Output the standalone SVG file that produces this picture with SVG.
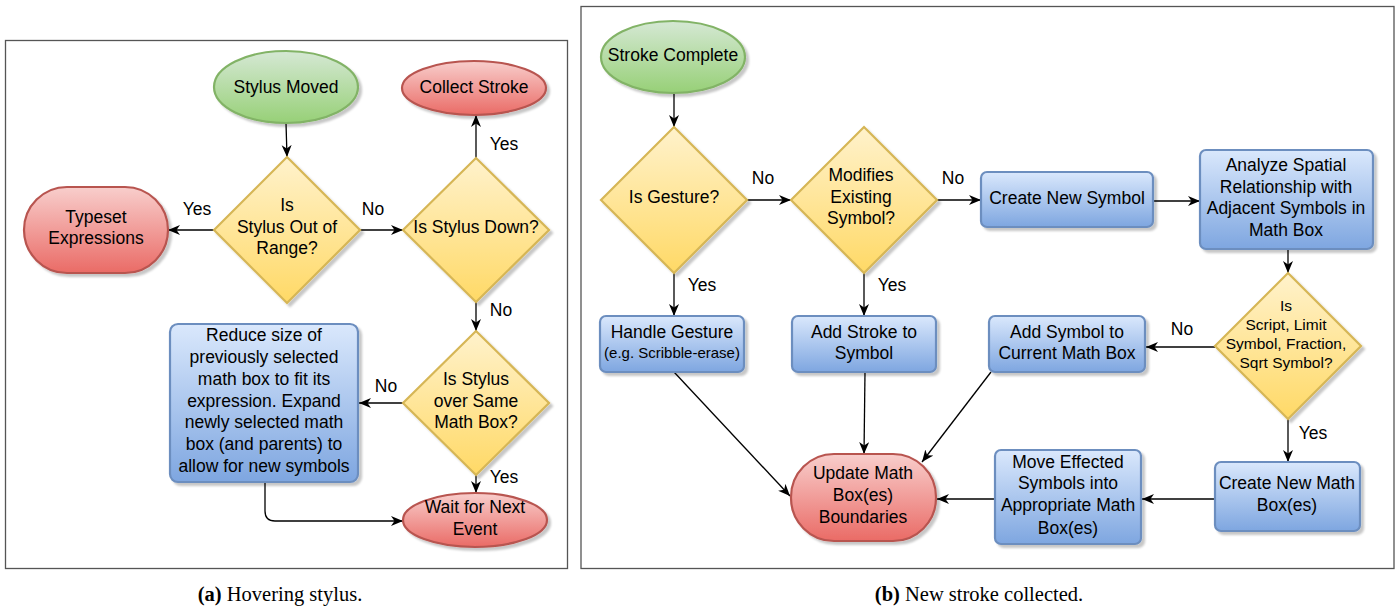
<svg xmlns="http://www.w3.org/2000/svg" width="1399" height="610" viewBox="0 0 1399 610">
<style>
text{font-family:"Liberation Sans",Arial,sans-serif;font-size:17.5px;fill:#000;text-anchor:middle}
.sm{font-size:15.5px}
.xs{font-size:15px}
.cap{font-family:"Liberation Serif","Times New Roman",serif;font-size:20.5px}
.frame{fill:#fff;stroke:#555;stroke-width:1.3}
.green{fill:url(#gG);stroke:#82b366;stroke-width:2.2}
.red{fill:url(#gR);stroke:#b85450;stroke-width:2.2}
.yel{fill:url(#gY);stroke:#d6b656;stroke-width:2.2}
.blue{fill:url(#gB);stroke:#6c8ebf;stroke-width:2.2}
.sh{filter:url(#shadow)}
#connectors path,#connectors line{fill:none;stroke:#000;stroke-width:1.3;marker-end:url(#arr)}
</style>
<defs>
<linearGradient id="gG" x1="0" y1="0" x2="0" y2="1"><stop offset="0" stop-color="#d5e8d4"/><stop offset="1" stop-color="#97d077"/></linearGradient>
<linearGradient id="gR" x1="0" y1="0" x2="0" y2="1"><stop offset="0" stop-color="#f8cecc"/><stop offset="1" stop-color="#ea6b66"/></linearGradient>
<linearGradient id="gY" x1="0" y1="0" x2="0" y2="1"><stop offset="0" stop-color="#fff2cc"/><stop offset="1" stop-color="#ffd966"/></linearGradient>
<linearGradient id="gB" x1="0" y1="0" x2="0" y2="1"><stop offset="0" stop-color="#dae8fc"/><stop offset="1" stop-color="#7ea6e0"/></linearGradient>
<filter id="shadow" x="-10%" y="-10%" width="130%" height="130%">
<feOffset in="SourceAlpha" dx="3" dy="3" result="o"/>
<feGaussianBlur in="o" stdDeviation="0.8" result="b"/>
<feColorMatrix in="b" type="matrix" values="0 0 0 0 0  0 0 0 0 0  0 0 0 0 0  0 0 0 0.22 0" result="s"/>
<feMerge><feMergeNode in="s"/><feMergeNode in="SourceGraphic"/></feMerge>
</filter>
<marker id="arr" markerUnits="userSpaceOnUse" markerWidth="13" markerHeight="11" refX="12" refY="5" orient="auto">
<path d="M0,0 L12,5 L0,10 L3.5,5 z" fill="#000"/>
</marker>
</defs>

<rect class="frame" x="5.5" y="40.5" width="562" height="528"/>
<rect class="frame" x="581" y="6.5" width="813" height="562"/>

<g id="connectors">
<line x1="286" y1="123" x2="287" y2="157"/>
<line x1="214" y1="230" x2="168" y2="230"/>
<line x1="360" y1="230" x2="403" y2="230"/>
<line x1="476" y1="158" x2="476" y2="115"/>
<line x1="476" y1="302" x2="476" y2="331"/>
<line x1="403" y1="403" x2="359" y2="403"/>
<line x1="476" y1="475" x2="476" y2="493"/>
<path d="M265,482 V511 Q265,521 275,521 H403"/>
<line x1="674" y1="94" x2="674" y2="127"/>
<line x1="747" y1="200" x2="791" y2="200"/>
<line x1="937" y1="200" x2="981" y2="200"/>
<line x1="1153" y1="201" x2="1200" y2="201"/>
<line x1="1288" y1="249" x2="1288" y2="273"/>
<line x1="1215" y1="347" x2="1146" y2="347"/>
<line x1="1288" y1="419" x2="1288" y2="462"/>
<line x1="1215" y1="499" x2="1142" y2="499"/>
<line x1="995" y1="499" x2="937" y2="499"/>
<line x1="674" y1="273" x2="674" y2="316"/>
<line x1="864" y1="273" x2="864" y2="316"/>
<line x1="674" y1="372" x2="790" y2="496"/>
<line x1="865" y1="372" x2="864" y2="454"/>
<line x1="991" y1="372" x2="922" y2="462"/>
</g>

<g id="labels">
<text x="197" y="215">Yes</text>
<text x="373" y="215">No</text>
<text x="504" y="150">Yes</text>
<text x="501" y="316">No</text>
<text x="386" y="392">No</text>
<text x="504" y="483">Yes</text>
<text x="763" y="184">No</text>
<text x="953" y="184">No</text>
<text x="702" y="291">Yes</text>
<text x="892" y="291">Yes</text>
<text x="1182" y="335">No</text>
<text x="1313" y="439">Yes</text>
</g>

<g id="stylus-moved"><ellipse class="green sh" cx="286" cy="87" rx="72" ry="36"/><text x="286" y="93">Stylus Moved</text></g>
<g id="collect-stroke"><ellipse class="red sh" cx="474" cy="88" rx="72" ry="27"/><text x="474" y="93">Collect Stroke</text></g>
<g id="out-of-range"><polygon class="yel sh" points="287,157 360,230 287,303 214,230"/><text x="287" y="211">Is</text><text x="287" y="233">Stylus Out of</text><text x="287" y="254">Range?</text></g>
<g id="typeset"><rect class="red sh" x="24" y="187" width="144" height="86" rx="43"/><text x="96" y="223">Typeset</text><text x="96" y="244">Expressions</text></g>
<g id="stylus-down"><polygon class="yel sh" points="476,158 549,230 476,302 403,230"/><text x="476" y="233">Is Stylus Down?</text></g>
<g id="reduce"><rect class="blue sh" x="170" y="324" width="188" height="158" rx="8"/>
<text x="264" y="341">Reduce size of</text><text x="264" y="363">previously selected</text><text x="264" y="385">math box to fit its</text><text x="264" y="407">expression. Expand</text><text x="264" y="428">newly selected math</text><text x="264" y="450">box (and parents) to</text><text x="264" y="472">allow for new symbols</text></g>
<g id="same-box"><polygon class="yel sh" points="476,331 549,403 476,475 403,403"/><text x="476" y="385">Is Stylus</text><text x="476" y="407">over Same</text><text x="476" y="428">Math Box?</text></g>
<g id="wait"><ellipse class="red sh" cx="475" cy="520" rx="72" ry="27"/><text x="475" y="513">Wait for Next</text><text x="475" y="535">Event</text></g>

<g id="stroke-complete"><ellipse class="green sh" cx="673" cy="57" rx="72" ry="36"/><text x="673" y="61">Stroke Complete</text></g>
<g id="is-gesture"><polygon class="yel sh" points="674,127 747,200 674,273 601,200"/><text x="674" y="203">Is Gesture?</text></g>
<g id="modifies"><polygon class="yel sh" points="864,127 937,200 864,273 791,200"/><text x="861" y="181">Modifies</text><text x="861" y="203">Existing</text><text x="861" y="224">Symbol?</text></g>
<g id="create-symbol"><rect class="blue sh" x="981" y="172" width="172" height="55" rx="6"/><text x="1067" y="204">Create New Symbol</text></g>
<g id="analyze"><rect class="blue sh" x="1200" y="150" width="173" height="99" rx="6"/><text x="1286" y="171">Analyze Spatial</text><text x="1286" y="193">Relationship with</text><text x="1286" y="214">Adjacent Symbols in</text><text x="1286" y="236">Math Box</text></g>
<g id="is-script"><polygon class="yel sh" points="1288,273 1361,346 1288,419 1215,346"/><text class="sm" x="1286" y="311">Is</text><text class="sm" x="1286" y="330">Script, Limit</text><text class="sm" x="1286" y="349">Symbol, Fraction,</text><text class="sm" x="1286" y="368">Sqrt Symbol?</text></g>
<g id="add-symbol"><rect class="blue sh" x="989" y="316" width="156" height="56" rx="6"/><text x="1067" y="338">Add Symbol to</text><text x="1067" y="359">Current Math Box</text></g>
<g id="create-math-box"><rect class="blue sh" x="1215" y="462" width="145" height="69" rx="6"/><text x="1287" y="489">Create New Math</text><text x="1287" y="511">Box(es)</text></g>
<g id="move-effected"><rect class="blue sh" x="995" y="450" width="146" height="94" rx="6"/><text x="1068" y="468">Move Effected</text><text x="1068" y="489">Symbols into</text><text x="1068" y="511">Appropriate Math</text><text x="1068" y="534">Box(es)</text></g>
<g id="handle-gesture"><rect class="blue sh" x="600" y="316" width="144" height="56" rx="6"/><text x="672" y="338">Handle Gesture</text><text class="xs" x="672" y="358">(e.g. Scribble-erase)</text></g>
<g id="add-stroke"><rect class="blue sh" x="792" y="316" width="144" height="56" rx="6"/><text x="864" y="338">Add Stroke to</text><text x="864" y="359">Symbol</text></g>
<g id="update"><rect class="red sh" x="791" y="454" width="145" height="87" rx="43"/><text x="863" y="479">Update Math</text><text x="863" y="501">Box(es)</text><text x="863" y="523">Boundaries</text></g>

<g id="captions">
<text class="cap" x="280" y="601"><tspan font-weight="bold">(a)</tspan> Hovering stylus.</text>
<text class="cap" x="979" y="601"><tspan font-weight="bold">(b)</tspan> New stroke collected.</text>
</g>
</svg>
